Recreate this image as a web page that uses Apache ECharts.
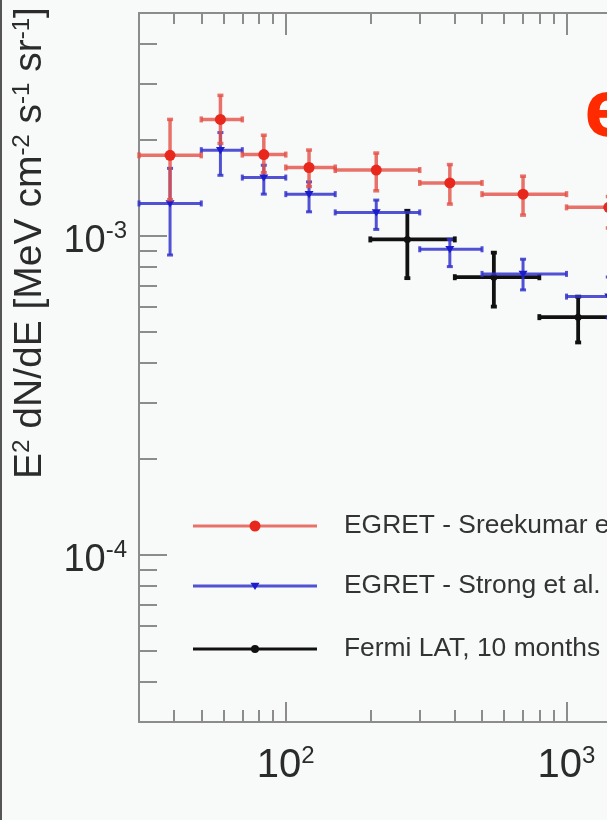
<!DOCTYPE html>
<html>
<head>
<meta charset="utf-8">
<script src="https://cdn.jsdelivr.net/npm/echarts@6/dist/echarts.min.js"></script>
<style>
  html, body { margin: 0; padding: 0; background: #f8faf9; overflow: hidden; }
  #chart { width: 1200px; height: 820px; }
</style>
</head>
<body>
<div id="chart"></div>
<script>
// Energy (MeV) and E^2 dN/dE (MeV cm^-2 s^-1 sr^-1) with bin edges and error ranges

// EGRET - Sreekumar et al.
const sreekumarE      = [38.7, 58.5, 83.5, 121, 210, 384, 700, 1414];
const sreekumarElo    = [30, 50, 70, 100, 150, 300, 500, 1000];
const sreekumarEhi    = [50, 70, 100, 150, 300, 500, 1000, 2000];
const sreekumarFlux   = [1.79e-3, 2.32e-3, 1.80e-3, 1.64e-3, 1.61e-3, 1.467e-3, 1.353e-3, 1.23e-3];
const sreekumarFluxLo = [1.30e-3, 1.95e-3, 1.58e-3, 1.43e-3, 1.386e-3, 1.259e-3, 1.163e-3, 1.06e-3];
const sreekumarFluxHi = [2.32e-3, 2.76e-3, 2.07e-3, 1.86e-3, 1.82e-3, 1.675e-3, 1.54e-3, 1.33e-3];

// EGRET - Strong et al.
const strongE      = [38.7, 58.5, 83.5, 121, 210, 384, 700, 1414];
const strongElo    = [30, 50, 70, 100, 150, 300, 500, 1000];
const strongEhi    = [50, 70, 100, 150, 300, 500, 1000, 2000];
const strongFlux   = [1.265e-3, 1.858e-3, 1.525e-3, 1.353e-3, 1.186e-3, 9.09e-4, 7.61e-4, 6.46e-4];
const strongFluxLo = [8.72e-4, 1.55e-3, 1.353e-3, 1.191e-3, 1.049e-3, 8.02e-4, 6.78e-4, 5.54e-4];
const strongFluxHi = [1.63e-3, 2.11e-3, 1.667e-3, 1.478e-3, 1.296e-3, 9.76e-4, 8.46e-4, 7.44e-4];

// Fermi LAT, 10 months
const fermiE      = [271, 551, 1100];
const fermiElo    = [200, 400, 800];
const fermiEhi    = [400, 800, 1600];
const fermiFlux   = [9.76e-4, 7.43e-4, 5.57e-4];
const fermiFluxLo = [7.38e-4, 6.01e-4, 4.64e-4];
const fermiFluxHi = [1.2e-3, 8.87e-4, 6.46e-4];

// Axis ticks
const xMajorTicks = [100, 1000, 10000];
const xMinorTicks = [40, 50, 60, 70, 80, 90, 200, 300, 400, 500, 600, 700, 800, 900,
                     2000, 3000, 4000, 5000, 6000, 7000, 8000, 9000];
const yMajorTicks = [1e-4, 1e-3];
const yMinorTicks = [4e-5, 5e-5, 6e-5, 7e-5, 8e-5, 9e-5,
                     2e-4, 3e-4, 4e-4, 5e-4, 6e-4, 7e-4, 8e-4, 9e-4,
                     2e-3, 3e-3, 4e-3];

const legendNames = ['EGRET - Sreekumar et al.', 'EGRET - Strong et al.', 'Fermi LAT, 10 months'];
const yTitle = 'E{s|2} dN/dE [MeV cm{s|-2} s{s|-1} sr{s|-1}]';

const X_MIN = 30, X_MAX = 1e5, Y_MIN = 3e-5, Y_MAX = 5e-3;
const FONT = '"Liberation Sans", Arial, Helvetica, sans-serif';
const AXIS_COLOR = '#8c8c8c';
const TEXT_COLOR = '#2b2b2b';

function zip(e, elo, ehi, f, flo, fhi) {
  return e.map((v, i) => [v, f[i], elo[i], ehi[i], flo[i], fhi[i]]);
}

function markerShape(kind, cx, cy, size, color) {
  if (kind === 'circle') {
    return { type: 'circle', shape: { cx, cy, r: size }, style: { fill: color } };
  }
  // inverted triangle
  return {
    type: 'polygon',
    shape: { points: [[cx - size, cy - size * 0.7], [cx + size, cy - size * 0.7], [cx, cy + size * 0.9]] },
    style: { fill: color }
  };
}

function errorBars(barColor, barWidth, markerKind, markerSize, markerColor) {
  return function (params, api) {
    const x = api.value(0), y = api.value(1);
    const p = api.coord([x, y]);
    const l = api.coord([api.value(2), y]);
    const r = api.coord([api.value(3), y]);
    const b = api.coord([x, api.value(4)]);
    const t = api.coord([x, api.value(5)]);
    const cap = 3;
    const st = { stroke: barColor, lineWidth: barWidth };
    return {
      type: 'group',
      children: [
        { type: 'line', shape: { x1: l[0], y1: p[1], x2: r[0], y2: p[1] }, style: st },
        { type: 'line', shape: { x1: p[0], y1: t[1], x2: p[0], y2: b[1] }, style: st },
        { type: 'line', shape: { x1: l[0], y1: p[1] - cap, x2: l[0], y2: p[1] + cap }, style: st },
        { type: 'line', shape: { x1: r[0], y1: p[1] - cap, x2: r[0], y2: p[1] + cap }, style: st },
        { type: 'line', shape: { x1: p[0] - cap, y1: t[1], x2: p[0] + cap, y2: t[1] }, style: st },
        { type: 'line', shape: { x1: p[0] - cap, y1: b[1], x2: p[0] + cap, y2: b[1] }, style: st },
        markerShape(markerKind, p[0], p[1], markerSize, markerColor)
      ]
    };
  };
}

const tickStyle = { color: AXIS_COLOR, width: 2 };
const powerLabel = v => '{b|10}{s|' + Math.round(Math.log10(v)) + '}';
function labelRich(size) {
  return {
    b: { fontSize: size, fontFamily: FONT, color: TEXT_COLOR, lineHeight: 44 },
    s: { fontSize: 24, fontFamily: FONT, color: TEXT_COLOR, lineHeight: 24, verticalAlign: 'top' }
  };
}

function xAxisDef(position, ticks, len, showLine, labels) {
  return {
    type: 'log', logBase: 10, min: X_MIN, max: X_MAX, position, gridIndex: 0,
    splitLine: { show: false },
    axisLine: { show: showLine, onZero: false, lineStyle: { color: AXIS_COLOR, width: 2 } },
    axisTick: { show: true, inside: true, length: len, customValues: ticks, lineStyle: tickStyle },
    axisLabel: labels
      ? { show: true, customValues: labels, margin: 22, formatter: powerLabel, rich: labelRich(40) }
      : { show: false }
  };
}

function yAxisDef(ticks, len, showLine, labels) {
  return {
    type: 'log', logBase: 10, min: Y_MIN, max: Y_MAX, position: 'left', gridIndex: 0,
    splitLine: { show: false },
    axisLine: { show: showLine, onZero: false, lineStyle: { color: AXIS_COLOR, width: 2 } },
    axisTick: { show: true, inside: true, length: len, customValues: ticks, lineStyle: tickStyle },
    axisLabel: labels
      ? { show: true, customValues: labels, margin: 12, padding: [11, 0, 0, 0],
          formatter: powerLabel, rich: labelRich(38) }
      : { show: false }
  };
}

// Legend: a line with the series marker, followed by its name
const legendRows = [
  { y: 526, bar: 'rgba(228,80,70,0.8)', marker: 'circle', size: 5.5, mcolor: '#e8281c' },
  { y: 586, bar: 'rgba(50,50,205,0.85)', marker: 'triangle', size: 4.5, mcolor: '#1c1ccc' },
  { y: 649, bar: '#111111', marker: 'circle', size: 4, mcolor: '#111111' }
];
const legendGraphics = [];
legendRows.forEach((row, i) => {
  legendGraphics.push({ type: 'line', shape: { x1: 193, y1: row.y, x2: 317, y2: row.y },
                        style: { stroke: row.bar, lineWidth: 3 } });
  legendGraphics.push(markerShape(row.marker, 255, row.y, row.size, row.mcolor));
  legendGraphics.push({ type: 'text', x: 344, y: row.y,
    style: { text: legendNames[i], fontSize: 26.4, fontFamily: FONT, fill: '#333333',
             align: 'left', verticalAlign: 'middle' } });
});

const chart = echarts.init(document.getElementById('chart'), null, { renderer: 'canvas' });
chart.setOption({
  backgroundColor: '#f8faf9',
  animation: false,
  grid: { left: 139, top: 13, width: 989, height: 709, containLabel: false, outerBoundsMode: 'none' },
  xAxis: [
    xAxisDef('bottom', xMajorTicks, 20, true, [100, 1000, 10000]),
    xAxisDef('bottom', xMinorTicks, 12, false, null),
    xAxisDef('top', xMajorTicks, 22, true, null),
    xAxisDef('top', xMinorTicks, 11, false, null)
  ],
  yAxis: [
    yAxisDef(yMajorTicks, 28, true, yMajorTicks),
    yAxisDef(yMinorTicks, 18, false, null)
  ],
  series: [
    {
      name: legendNames[2], type: 'custom', xAxisIndex: 0, yAxisIndex: 0, z: 2,
      renderItem: errorBars('#111111', 3.8, 'circle', 3.5, '#111111'),
      encode: { x: 0, y: 1 },
      data: zip(fermiE, fermiElo, fermiEhi, fermiFlux, fermiFluxLo, fermiFluxHi)
    },
    {
      name: legendNames[1], type: 'custom', xAxisIndex: 0, yAxisIndex: 0, z: 3,
      renderItem: errorBars('rgba(50,50,205,0.85)', 3, 'triangle', 4.5, '#1c1ccc'),
      encode: { x: 0, y: 1 },
      data: zip(strongE, strongElo, strongEhi, strongFlux, strongFluxLo, strongFluxHi)
    },
    {
      name: legendNames[0], type: 'custom', xAxisIndex: 0, yAxisIndex: 0, z: 4,
      renderItem: errorBars('rgba(228,80,70,0.8)', 3.5, 'circle', 5.5, '#e8281c'),
      encode: { x: 0, y: 1 },
      data: zip(sreekumarE, sreekumarElo, sreekumarEhi, sreekumarFlux, sreekumarFluxLo, sreekumarFluxHi)
    }
  ],
  graphic: [
    // left frame edge
    { type: 'rect', shape: { x: 0, y: 0, width: 2, height: 820 }, style: { fill: '#555555' } },
    // vertical axis title
    { type: 'text', x: 30, y: 243, rotation: Math.PI / 2,
      style: { text: yTitle, fontSize: 39, fontFamily: FONT, fill: TEXT_COLOR,
               align: 'center', verticalAlign: 'middle',
               rich: { s: { fontSize: 24, fontFamily: FONT, fill: TEXT_COLOR, lineHeight: 24, verticalAlign: 'top' } } } },
    // heading fragment
    { type: 'text', x: 584, y: 114,
      style: { text: 'e', fontSize: 78, fontWeight: 'bold', fontFamily: '"Open Sans", sans-serif',
               fill: '#ff2a00', align: 'left', verticalAlign: 'middle' } }
  ].concat(legendGraphics)
});
</script>
</body>
</html>
